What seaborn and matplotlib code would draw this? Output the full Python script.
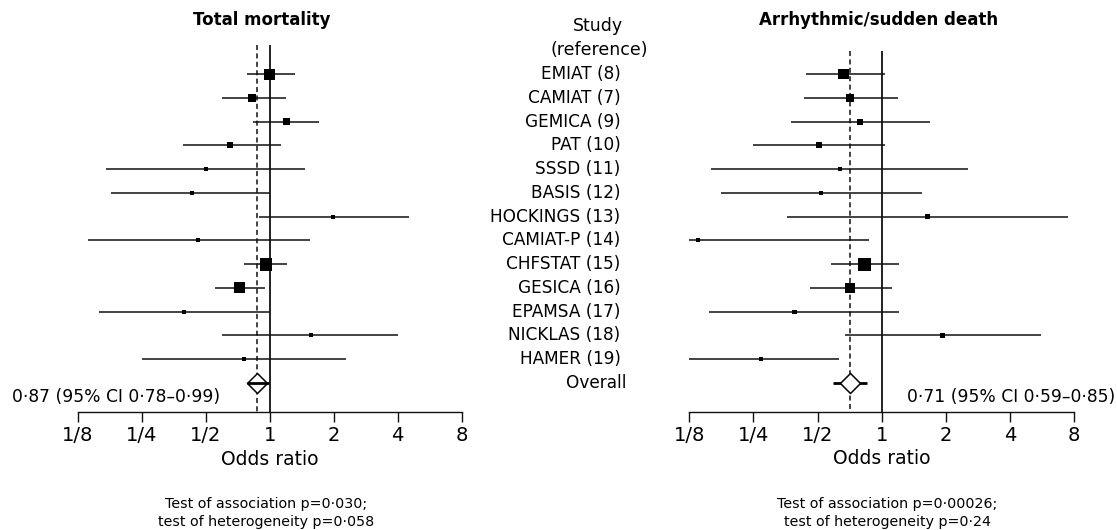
import matplotlib
matplotlib.use("Agg")
import matplotlib.pyplot as plt
import matplotlib.transforms as mtransforms
from matplotlib.ticker import NullLocator
import seaborn as sns
import pandas as pd
import numpy as np

# ---------------- data ----------------
studies = ["EMIAT (8)", "CAMIAT (7)", "GEMICA (9)", "PAT (10)", "SSSD (11)",
           "BASIS (12)", "HOCKINGS (13)", "CAMIAT-P (14)", "CHFSTAT (15)",
           "GESICA (16)", "EPAMSA (17)", "NICKLAS (18)", "HAMER (19)"]

# Total mortality: odds ratio, 95% CI, study weight
tm_or = [1.00, 0.825, 1.20, 0.65, 0.50, 0.43, 1.98, 0.46, 0.96, 0.72, 0.395, 1.56, 0.76]
tm_lo = [0.78, 0.595, 0.835, 0.39, 0.17, 0.18, 0.89, 0.139, 0.76, 0.55, 0.158, 0.595, 0.25]
tm_hi = [1.31, 1.19, 1.71, 1.13, 1.46, 1.00, 4.5, 1.55, 1.21, 0.95, 1.00, 4.0, 2.28]
tm_w = [11, 8, 7, 6, 4, 4, 4, 4, 12.7, 11, 4, 4, 4]
tm_overall = [0.87, 0.78, 0.99]

# Arrhythmic / sudden death
sd_or = [0.66, 0.71, 0.79, 0.51, 0.64, 0.52, 1.64, 0.137, 0.83, 0.71, 0.39, 1.92, 0.27]
sd_lo = [0.44, 0.43, 0.376, 0.25, 0.158, 0.176, 0.36, 0.125, 0.58, 0.46, 0.155, 0.67, 0.124]
sd_hi = [1.03, 1.19, 1.69, 1.04, 2.53, 1.55, 7.47, 0.87, 1.20, 1.12, 1.21, 5.57, 0.63]
sd_w = [10.7, 8, 6, 6, 4, 4, 5, 4, 12.7, 10, 4.3, 4.7, 4]
sd_overall = [0.71, 0.59, 0.85]

tick_values = [1/8, 1/4, 1/2, 1, 2, 4, 8]
tick_labels = ["1/8", "1/4", "1/2", "1", "2", "4", "8"]

titles = ["Total mortality", "Arrhythmic/sudden death"]
overall_texts = ["0·87 (95% CI 0·78–0·99)", "0·71 (95% CI 0·59–0·85)"]
foot_texts = [["Test of association p=0·030;", "test of heterogeneity p=0·058"],
              ["Test of association p=0·00026;", "test of heterogeneity p=0·24"]]

# ---------------- style ----------------
sns.set_style("white")
plt.rcParams["font.family"] = ["DejaVu Sans"]
plt.rcParams["text.color"] = "black"
plt.rcParams["axes.labelcolor"] = "black"
plt.rcParams["xtick.color"] = "black"

W, H = 1117, 530
fig = plt.figure(figsize=(W / 100, H / 100), dpi=100)
PX2PT = 72 / 100


def fx(p):
    return p / W


def fy(p):
    return 1 - p / H


ROW0, STEP = 74.0, 23.77


def row_of(px):
    return (px - ROW0) / STEP


LINE = "#111111"


def panel(left_px, right_px, top_px, bottom_px, vtop_px, ors, los, his, ws,
          overall, line_on_top):
    ax = fig.add_axes([fx(left_px), fy(bottom_px),
                       (right_px - left_px) / W, (bottom_px - top_px) / H])
    ax.set_facecolor("none")
    n = len(ors)
    df = pd.DataFrame({"study": studies, "row": np.arange(n), "or": ors,
                       "lo": los, "hi": his, "w": ws})
    ybot = row_of(bottom_px)
    vtop = row_of(vtop_px)
    # reference lines
    ax.vlines(1, vtop, ybot, color=LINE, lw=1.3, zorder=1)
    ax.vlines(overall[0], vtop, ybot, color=LINE, lw=1.1,
              linestyles=(0, (3.3, 2.2)), zorder=1)
    # CIs
    ax.hlines(df["row"], df["lo"], df["hi"], color=LINE, lw=1.1, zorder=2)
    sizes = {w: (w * PX2PT) ** 2 for w in df["w"].unique()}
    sns.scatterplot(data=df, x="or", y="row", size="w", sizes=sizes,
                    marker="s", color="black", linewidth=0, legend=False,
                    ax=ax, zorder=3)
    # overall
    odf = pd.DataFrame({"or": [overall[0]], "row": [n]})
    ax.hlines(n, overall[1], overall[2], color="black", lw=2.0,
              zorder=5 if line_on_top else 3)
    sns.scatterplot(data=odf, x="or", y="row", marker="D", s=104,
                    facecolor="white", edgecolor="black", linewidth=1.1,
                    legend=False, ax=ax, zorder=4)
    ax.set_xscale("log", base=2)
    ax.set_xlim(1 / 8, 8)
    ax.set_ylim(ybot, row_of(top_px))
    ax.set_xticks(tick_values, tick_labels)
    ax.xaxis.set_minor_locator(NullLocator())
    ax.set_yticks([])
    ax.set_ylabel("")
    ax.set_xlabel("Odds ratio", fontsize=13.5, labelpad=3)
    for s in ["left", "right", "top"]:
        ax.spines[s].set_visible(False)
    ax.spines["bottom"].set_linewidth(1.0)
    ax.spines["bottom"].set_color(LINE)
    ax.tick_params(axis="x", which="major", bottom=True, direction="out",
                   length=7.2, width=1.0, labelsize=14, pad=3,
                   color=LINE, labelcolor="black")
    for c in ax.collections:
        c.set_clip_on(False)
    return ax


axL = panel(77.7, 461.7, 43, 412.3, 45, tm_or, tm_lo, tm_hi, tm_w,
            tm_overall, True)
axR = panel(689.3, 1074.3, 43, 412.0, 51, sd_or, sd_lo, sd_hi, sd_w,
            sd_overall, False)

# titles
fig.text(fx(262), fy(20), titles[0], ha="center", va="center",
         fontsize=12, fontweight="bold")
fig.text(fx(879), fy(20), titles[1], ha="center", va="center",
         fontsize=12, fontweight="bold")

# study labels in the middle column
tr = mtransforms.blended_transform_factory(fig.transFigure, axL.transData)
fig.text(fx(598), fy(26), "Study", ha="center", va="center", fontsize=12.5)
fig.text(fx(599), fy(50), "(reference)", ha="center", va="center", fontsize=12.5)
for i, s in enumerate(studies):
    axL.text(fx(620.5), i, s, transform=tr, ha="right", va="center",
             fontsize=12.2, clip_on=False)
axL.text(fx(626.5), len(studies), "Overall", transform=tr, ha="right",
         va="center", fontsize=12.2, clip_on=False)

# overall estimates
fig.text(fx(12), fy(396.7), overall_texts[0], ha="left", va="center",
         fontsize=12.3)
fig.text(fx(1115), fy(396.7), overall_texts[1], ha="right", va="center",
         fontsize=12.3)

# footnotes
for cx, lines in zip([265.8, 887.5], foot_texts):
    fig.text(fx(cx), fy(504.3), lines[0], ha="center", va="center", fontsize=10.3)
    fig.text(fx(cx), fy(522), lines[1], ha="center", va="center", fontsize=10.3)

fig.savefig("out.png", dpi=100)
